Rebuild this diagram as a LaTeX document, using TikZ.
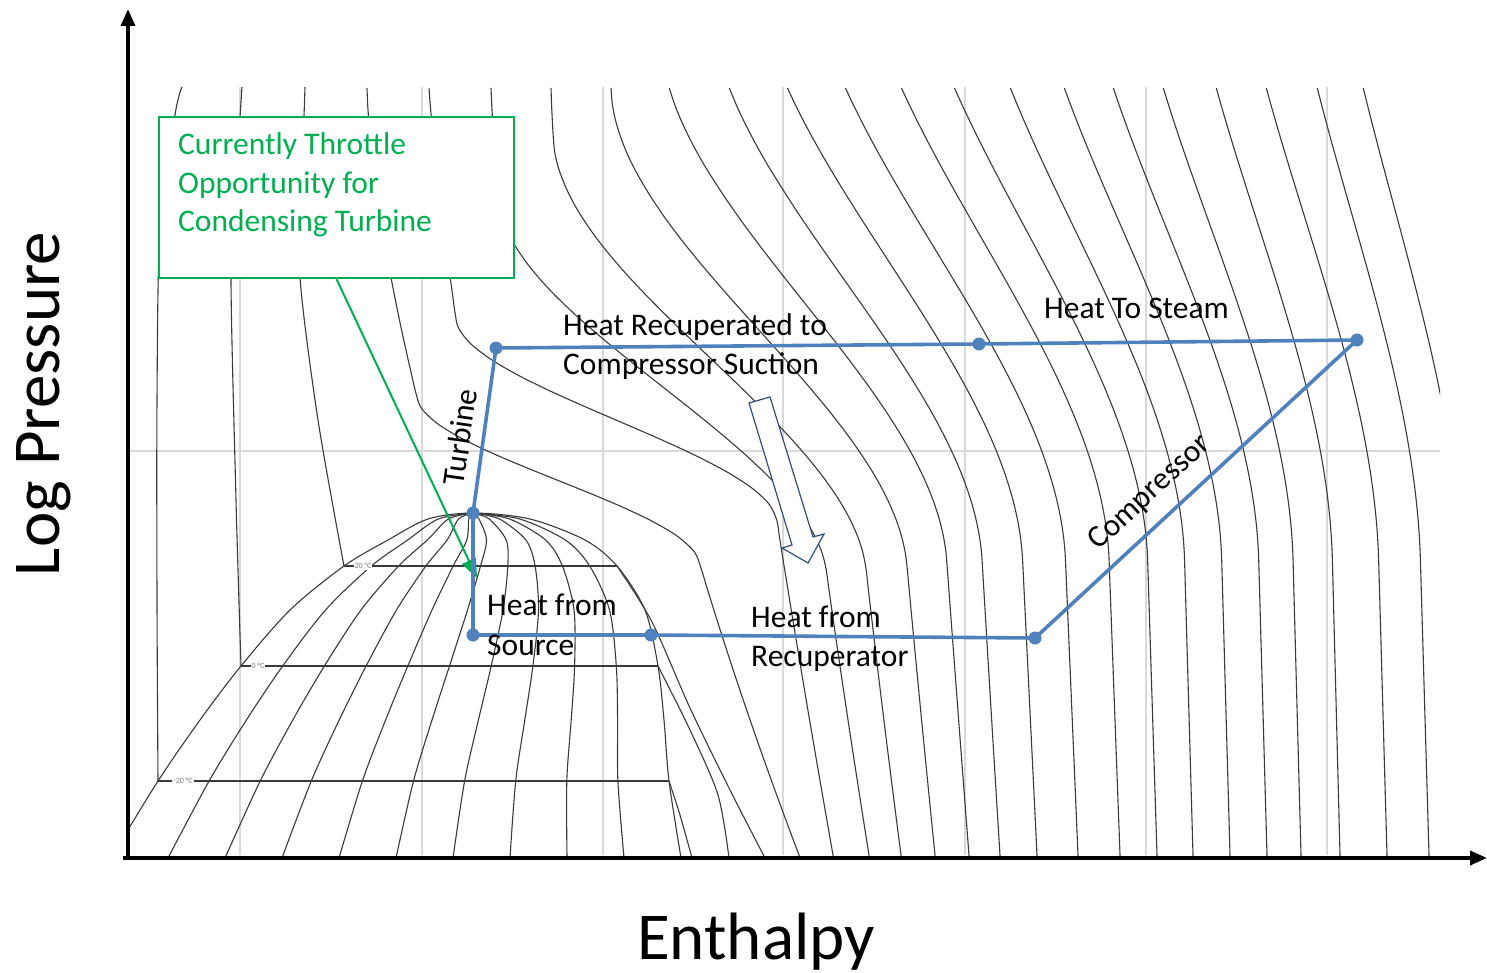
\documentclass[tikz,border=0pt]{standalone}
\usepackage{fontspec}
\setmainfont{Carlito}
\usetikzlibrary{arrows.meta,calc}
\definecolor{cycblue}{HTML}{4F81BD}
\definecolor{boxgreen}{HTML}{00B050}
\definecolor{gridgray}{HTML}{D9D9D9}
\definecolor{isogray}{HTML}{3A3A3A}
\definecolor{navyline}{HTML}{2F4F7F}
\begin{document}
\begin{tikzpicture}[x=1pt,y=-1pt,
  declare function={tt(\va,\lo,\hi)=max(0,min(1,(\va-\lo)/(\hi-\lo)));
                    sst(\va,\lo,\hi)=tt(\va,\lo,\hi)*tt(\va,\lo,\hi)*(3-2*tt(\va,\lo,\hi));
                    sstn(\va,\lo,\hi)=(sst(\va,\lo,\hi)-sst(87,\lo,\hi))/(1-sst(87,\lo,\hi));},
  iso/.style={isogray, line width=1.1pt},
  gridline/.style={gridgray, line width=2.4pt},
  cyc/.style={cycblue, line width=3.6pt, line join=round},
  dot/.style={circle, fill=cycblue, inner sep=0pt, minimum size=13pt},
  lbl/.style={font=\fontsize{31.5}{38.5}\selectfont, inner sep=0pt},
  glbl/.style={lbl, text=boxgreen},
  axlbl/.style={font=\fontsize{67}{80}\selectfont, inner sep=0pt},
  templbl/.style={font=\fontsize{8}{9}\selectfont, text=gray, fill=white, inner sep=1pt},
  axisline/.style={line width=3.5pt, -{Triangle[length=17pt,width=14pt]}},
]
\useasboundingbox (0,0) rectangle (1487,973);

% grid
\foreach \gx in {240,422,603,783,965,1146,1327} \draw[gridline] (\gx,87) -- (\gx,855);
\draw[gridline] (130,451) -- (1440,451);

\begin{scope}
\clip (130,87) rectangle (1440,856);
% supercritical / vapour isotherms
\foreach \xt/\xb/\ya/\yb/\mix/\pw in {
367/799/400/560/0.55/1.5,
429/833/320/520/0.72/1.2,
491/869/200/570/0.75/1.3,
551/901/140/570/0.78/1.3,
611/935/90/565/0.80/1.2,
669/969/40/560/0.82/1.1,
729/1000/0/560/0.84/1.1,
787/1037/-40/560/0.85/1,
845/1078/-60/560/0.86/1,
901/1120/-80/560/0.87/1,
954/1157/-100/560/0.88/1,
1010/1193/-100/560/0.88/1,
1064/1230/-100/560/0.87/1,
1113/1267/-100/560/0.86/1,
1163/1301/-110/560/0.85/1,
1216/1340/-120/560/0.84/1,
1266/1387/-130/560/0.82/1,
1317/1429/-140/560/0.80/1,
1363/1470/-150/560/0.78/1}
{\draw[iso] plot[domain=88:856, samples=49, smooth, variable=\t]
   ({\xt+(\xb-\xt)*(\mix*sstn(\t,\ya,\yb)+(1-\mix)*((\t-87)/768)^\pw)}, {\t});}

% saturation dome points
\foreach \n/\yy/\xl/\xv in {1/513/473/473, 2/519/428/530, 3/540/388/585, 4/566/344/617,
   5/610/290/645, 6/666/241/658, 7/720/200/664, 8/781/158/669, 9/858/111/681}
 {\coordinate (L\n) at (\xl,\yy); \coordinate (V\n) at (\xv,\yy);}
\draw[iso] plot[smooth] coordinates {(L9) (L8) (L7) (L6) (L5) (L4) (L3) (L2) (L1) (V2) (V3) (V4) (V5) (V6) (V7) (V8) (V9)};
% quality lines
\foreach \q [count=\j] in {0.1,0.2,0.3,0.4,0.5,0.6,0.7,0.8,0.9}{
  \foreach \n in {2,...,9} \coordinate (Q\j-\n) at ($(L\n)!\q!(V\n)$);
  \draw[iso] plot[smooth] coordinates {(L1) (Q\j-2) (Q\j-3) (Q\j-4) (Q\j-5) (Q\j-6) (Q\j-7) (Q\j-8) (Q\j-9)};
}
% subcritical isotherms
\draw[iso] plot[smooth] coordinates {(182,87) (175,115) (160,230) (157,400) (157,600) (L8)};
\draw[iso] plot[smooth] coordinates {(242,87) (236,180) (231,277) (236,500) (L6)};
\draw[iso] plot[smooth] coordinates {(305,87) (302,180) (300,277) (318,420) (L4)};
\draw[iso] (L4) -- (V4);
\draw[iso] (L6) -- (V6);
\draw[iso] (L8) -- (V8);
\draw[iso] plot[smooth] coordinates {(V8) (680,815) (692,858)};
\draw[iso] plot[smooth] coordinates {(V6) (690,730) (718,795) (729,858)};
\draw[iso] plot[smooth] coordinates {(V4) (652,622) (690,708) (730,790) (765,858)};
\node[templbl] (tl20) at (363,566) {20 °C};
\node[templbl] (tl0) at (258,666) {0 °C};
\node[templbl] (tlm20) at (183,781) {-20 °C};
\end{scope}

% hollow arrow
\draw[navyline, line width=1.2pt, fill=white, line join=miter]
  (749,403) -- (770,397) -- (813,537) -- (824,534) -- (808,563) -- (782,548) -- (792,545) -- cycle;

% green note
\node[draw=boxgreen, line width=2pt, fill=white, minimum width=355, minimum height=161,
      anchor=north west, inner sep=0pt] (note) at (158,116) {};
\node[glbl, anchor=base west] (g1) at (178,155) {Currently Throttle};
\node[glbl, anchor=base west] (g2) at (178,194) {Opportunity for};
\node[glbl, anchor=base west] (g3) at (178,232) {Condensing Turbine};
\coordinate (gtip) at (477,578);
\draw[boxgreen, line width=2pt, -{Triangle[length=19pt,width=15pt]}] (note.south) -- (gtip);

% cycle
\node[dot] (A) at (496,348) {};
\node[dot] (B) at (979,344) {};
\node[dot] (C) at (1357,340) {};
\node[dot] (D) at (1035,638) {};
\node[dot] (E) at (651,635) {};
\node[dot] (F) at (473,635) {};
\node[dot] (G) at (473,513) {};
\draw[cyc] (G.center) -- (A.center) -- (B.center) -- (C.center) -- (D.center) -- (E.center) -- (F.center) -- (G.center);

% labels
\node[lbl, anchor=base west] (t1) at (563,335) {Heat Recuperated to};
\node[lbl, anchor=base west] (t2) at (563,374) {Compressor Suction};
\node[lbl, anchor=base west] (t3) at (1044,318) {Heat To Steam};
\node[lbl, anchor=base west] (t4) at (487,615) {Heat from};
\node[lbl, anchor=base west] (t5) at (487,655) {Source};
\node[lbl, anchor=base west] (t6) at (751,627) {Heat from};
\node[lbl, anchor=base west] (t7) at (751,666) {Recuperator};
\node[lbl, rotate=82] (t8) at (460,437) {Turbine};
\node[lbl, rotate=42.8] (t9) at (1150,493) {Compressor};

% axes
\coordinate (origin) at (128,858);
\coordinate (ytop) at (128,9);
\coordinate (xend) at (1487,858);
\coordinate (ybot) at (128,860);
\coordinate (xstart) at (123,858);
\draw[axisline] (ybot) -- (ytop);
\draw[axisline] (xstart) -- (xend);
\node[axlbl, rotate=90, anchor=base] (ylab) at (59,404) {Log Pressure};
\node[axlbl, anchor=base] (xlab) at (756,959) {Enthalpy};
\end{tikzpicture}
\end{document}
